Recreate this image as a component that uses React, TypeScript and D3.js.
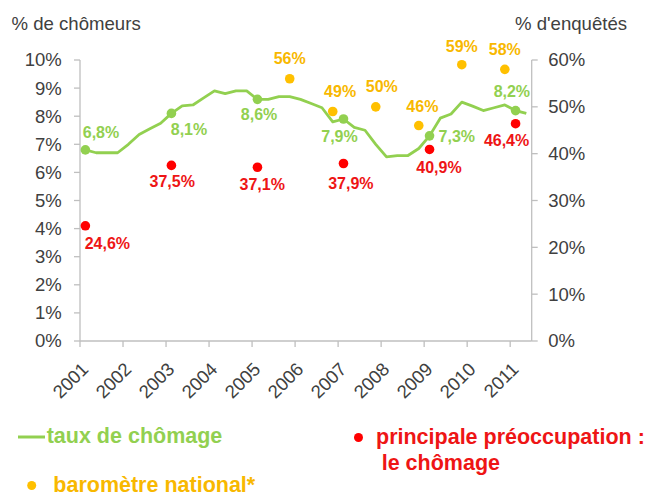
import React from "react";
import * as d3 from "d3";

// ---- Data ----
// Quarterly unemployment rate (% de chômeurs), 2001 Q1 .. 2011 Q2
const startYear = 2001;
const unemployment = [
  6.8, 6.7, 6.7, 6.7, // 2001
  7.0, 7.35, 7.55, 7.75, // 2002
  8.1, 8.37, 8.4, 8.65, // 2003
  8.9, 8.8, 8.9, 8.9, // 2004
  8.6, 8.6, 8.7, 8.7, // 2005
  8.6, 8.45, 8.3, 7.8, // 2006
  7.9, 7.6, 7.5, 7.0, // 2007
  6.55, 6.6, 6.6, 6.85, // 2008
  7.3, 7.93, 8.08, 8.5, // 2009
  8.36, 8.2, 8.3, 8.4, // 2010
  8.2, 8.1, // 2011
];
// Labelled markers on the unemployment line (Q1 of odd years)
const markerYears = [2001, 2003, 2005, 2007, 2009, 2011];
const markerValues = [6.8, 8.1, 8.6, 7.9, 7.3, 8.2];
// "principale préoccupation : le chômage" (% d'enquêtés), Q1 of odd years
const preoccYears = [2001, 2003, 2005, 2007, 2009, 2011];
const preoccValues = [24.6, 37.5, 37.1, 37.9, 40.9, 46.4];
// "baromètre national" (% d'enquêtés), Q4 of each year
const baroYears = [2005, 2006, 2007, 2008, 2009, 2010];
const baroValues = [56, 49, 50, 46, 59, 58];

const xTickYears = d3.range(2001, 2012);
const leftTicks = d3.range(0, 11, 1);
const rightTicks = d3.range(0, 61, 10);

// ---- Layout (label offsets relative to their marks) ----
const markerLabelOffsets = [
  [15.6, -12], [17.6, 21.6], [1.6, 20.7], [-4, 22.7], [27.3, 5.8], [-3.7, -14],
];
const preoccLabelOffsets = [
  [22, 23], [0.8, 21.6], [4.8, 22.7], [7.4, 25.5], [9.4, 23.5], [-9, 22.8],
];
const baroLabelOffsets = [
  [0, -14.3], [7.4, -14.8], [6, -14.5], [3.6, -14], [0, -13], [0, -14.4],
];

const W = 651;
const H = 496;
const left = 80;
const right = 531.7;
const top = 60;
const bottom = 341;

const GREEN = "#92D050";
const RED = "#FF0000";
const RED_TXT = "#EE1515";
const YELLOW = "#FFC000";
const YELLOW_TXT = "#F8B800";
const AXIS = "#BFBFBF";
const TXT = "#404040";
const FONT = "'Liberation Sans', Arial, sans-serif";

const fr = d3.formatLocale({
  decimal: ",",
  thousands: " ",
  grouping: [3],
  currency: ["", " €"],
});
const fmt1 = fr.format(".1f");

export default function App() {
  const x = d3.scaleLinear().domain([2001, 2011.5]).range([left, right]);
  const yL = d3.scaleLinear().domain([0, 10]).range([bottom, top]);
  const yR = d3.scaleLinear().domain([0, 60]).range([bottom, top]);

  const q1 = (yr: number) => yr + 0.125;
  const q4 = (yr: number) => yr + 0.875;

  const pts = unemployment.map((v, i) => [startYear + i / 4 + 0.125, v] as [number, number]);
  const line = d3
    .line<[number, number]>()
    .x((d) => x(d[0]))
    .y((d) => yL(d[1]));

  return (
    <svg
      width={W}
      height={H}
      style={{ position: "absolute", left: 0, top: 0, background: "#fff" }}
      fontFamily={FONT}
    >
      {/* axis titles */}
      <text x={11.5} y={30} fontSize={18.6} fill={TXT}>% de chômeurs</text>
      <text x={515} y={30} fontSize={18.6} fill={TXT}>% d'enquêtés</text>

      {/* axes */}
      <g stroke={AXIS} strokeWidth={1.3} fill="none">
        <line x1={left} x2={left} y1={top} y2={bottom} />
        <line x1={right} x2={right} y1={top} y2={bottom} />
        <line x1={left} x2={right} y1={bottom} y2={bottom} />
        {leftTicks.map((t) => (
          <line key={"lt" + t} x1={left - 6} x2={left} y1={yL(t)} y2={yL(t)} />
        ))}
        {rightTicks.map((t) => (
          <line key={"rt" + t} x1={right} x2={right + 6} y1={yR(t)} y2={yR(t)} />
        ))}
        {xTickYears.map((t) => (
          <line key={"xt" + t} x1={x(t)} x2={x(t)} y1={bottom} y2={bottom + 6} />
        ))}
      </g>

      {leftTicks.map((t) => (
        <text key={"ll" + t} x={61.7} y={yL(t)} dy="0.35em" textAnchor="end" fontSize={18.5} fill={TXT}>
          {t + "%"}
        </text>
      ))}
      {rightTicks.map((t) => (
        <text key={"rl" + t} x={548.3} y={yR(t)} dy="0.35em" textAnchor="start" fontSize={18.5} fill={TXT}>
          {t + "%"}
        </text>
      ))}
      {xTickYears.map((t) => (
        <text
          key={"xl" + t}
          transform={`translate(${x(t) + 9.5},${bottom + 29.5}) rotate(-45)`}
          textAnchor="end"
          fontSize={18.5}
          fill={TXT}
        >
          {String(t)}
        </text>
      ))}

      {/* unemployment line */}
      <path d={line(pts) || ""} fill="none" stroke={GREEN} strokeWidth={2.8} strokeLinejoin="round" />
      {markerYears.map((yr, i) => (
        <g key={"m" + yr}>
          <circle cx={x(q1(yr))} cy={yL(markerValues[i])} r={4.8} fill={GREEN} />
          <text
            x={x(q1(yr)) + markerLabelOffsets[i][0]}
            y={yL(markerValues[i]) + markerLabelOffsets[i][1]}
            textAnchor="middle"
            fontSize={16}
            fontWeight="bold"
            fill={GREEN}
          >
            {fmt1(markerValues[i]) + "%"}
          </text>
        </g>
      ))}

      {/* principale préoccupation */}
      {preoccYears.map((yr, i) => (
        <g key={"p" + yr}>
          <circle cx={x(q1(yr))} cy={yR(preoccValues[i])} r={4.8} fill={RED} />
          <text
            x={x(q1(yr)) + preoccLabelOffsets[i][0]}
            y={yR(preoccValues[i]) + preoccLabelOffsets[i][1]}
            textAnchor="middle"
            fontSize={16}
            fontWeight="bold"
            fill={RED_TXT}
          >
            {fmt1(preoccValues[i]) + "%"}
          </text>
        </g>
      ))}

      {/* baromètre national */}
      {baroYears.map((yr, i) => (
        <g key={"b" + yr}>
          <circle cx={x(q4(yr))} cy={yR(baroValues[i])} r={4.8} fill={YELLOW} />
          <text
            x={x(q4(yr)) + baroLabelOffsets[i][0]}
            y={yR(baroValues[i]) + baroLabelOffsets[i][1]}
            textAnchor="middle"
            fontSize={16}
            fontWeight="bold"
            fill={YELLOW_TXT}
          >
            {baroValues[i] + "%"}
          </text>
        </g>
      ))}

      {/* legend */}
      <line x1={18} x2={45} y1={437} y2={437} stroke={GREEN} strokeWidth={3} />
      <text x={46.7} y={443} fontSize={21.5} fontWeight="bold" fill={GREEN}>taux de chômage</text>

      <circle cx={31.7} cy={485.5} r={4.5} fill={YELLOW} />
      <text x={53.3} y={491.5} fontSize={21.5} fontWeight="bold" fill={YELLOW_TXT}>baromètre national*</text>

      <circle cx={358.5} cy={437.5} r={4.5} fill={RED} />
      <text x={376} y={443.5} fontSize={21.5} fontWeight="bold" fill={RED_TXT}>principale préoccupation :</text>
      <text x={381.7} y={469.5} fontSize={21.5} fontWeight="bold" fill={RED_TXT}>le chômage</text>
    </svg>
  );
}
